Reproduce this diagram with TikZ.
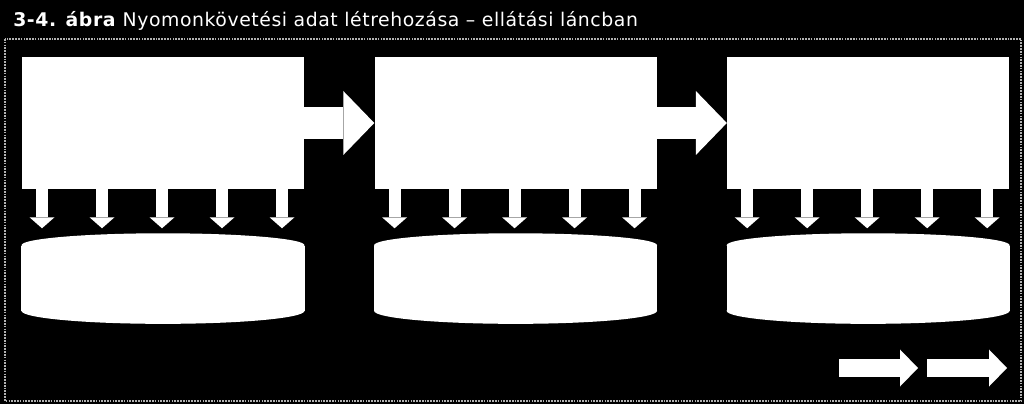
\documentclass[tikz,border=0pt]{standalone}
\usepackage{fontspec}
\setmainfont{DejaVu Sans}
\usetikzlibrary{arrows.meta,positioning}

\begin{document}
\begin{tikzpicture}[
    x = 0.25mm, y = -0.25mm, % one unit is one pixel, y runs down
    node distance = 17.5mm, % gap between the boxes
    inner sep = 0pt
    ]

    \tikzset{
    box/.style = {fill = white, minimum width = 70.5mm, minimum height = 33mm},
    disk/.style = {fill = white, minimum width = 70.75mm, minimum height = 16.25mm},
    bigarrow/.style = {white, line width = 8mm,
        -{Triangle[length = 7.75mm, width = 16mm, line width = 0pt]}},
    downarrow/.style = {white, line width = 3mm,
        -{Triangle[length = 2.75mm, width = 6.25mm, line width = 0pt]}},
    smallarrow/.style = {white, line width = 4.5mm,
        -{Triangle[length = 4.5mm, width = 9.25mm, line width = 0pt]}}
    }

    \useasboundingbox[fill = black] (0,0) rectangle (1024,404);
    \draw[black!30, line width = 0.8pt, dash pattern = on 1.2pt off 0.8pt] (5,39) rectangle (1021,401);

    \node[anchor = base west, text = white,
        font = \fontsize{13.4}{16}\selectfont\addfontfeature{LetterSpace=3}] (title) at (13,26.5)
        {\textbf{3-4. ábra} Nyomonkövetési adat létrehozása – ellátási láncban};

    \node[box] (b1) at (163,123) {};
    \node[box] (b2) [right=of b1] {};
    \node[box] (b3) [right=of b2] {};

    \node[disk] (d1) [below=14mm of b1] {};
    \node[disk] (d2) [below=14mm of b2] {};
    \node[disk] (d3) [below=14mm of b3] {};

    % round top and bottom of the disks
    \foreach \i in {1,2,3} {
        \fill[white] (d\i.north) ellipse [x radius = 35.375mm, y radius = 3mm];
        \fill[white] (d\i.south) ellipse [x radius = 35.375mm, y radius = 3.25mm];
    }

    \path[bigarrow] (b1) edge (b2)
                    (b2) edge (b3);

    \foreach \i in {1,2,3}
        \foreach \dx in {-121,-61,-1,59,119}
            \draw[downarrow] ([xshift=\dx*0.25mm]b\i.south) -- ([xshift=\dx*0.25mm, yshift=4.25mm]d\i.north);

    \coordinate (a1) at (839,368);
    \coordinate (a2) at (918,368);
    \coordinate (a3) at (927,368);
    \coordinate (a4) at (1007,368);
    \draw[smallarrow] (a1) -- (a2);
    \draw[smallarrow] (a3) -- (a4);
\end{tikzpicture}
\end{document}
